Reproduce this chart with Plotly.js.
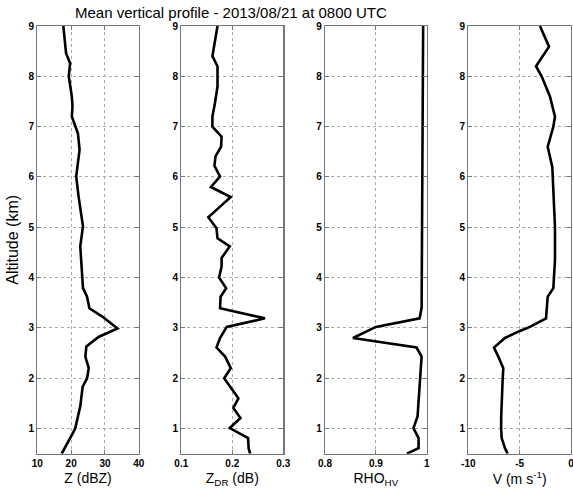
<!DOCTYPE html>
<html><head><meta charset="utf-8">
<script src="https://cdn.plot.ly/plotly-3.0.1.min.js"></script>
<style>html,body{margin:0;padding:0;background:#fff}</style>
</head><body><div id="chart" style="width:573px;height:495px"></div>
<script>
const zAlt = [9.0,8.46,8.26,8.0,7.6,7.4,7.2,6.87,6.54,6.01,5.61,5.02,4.62,4.35,4.0,3.79,3.62,3.39,3.23,2.99,2.82,2.63,2.43,2.2,2.0,1.83,1.44,1.0,0.91,0.5];
const zVal = [17.7,18.5,19.7,19.3,20.2,20.4,20.2,22.0,22.5,21.5,22.2,23.5,22.7,23.0,23.4,23.5,24.7,25.4,29.1,33.7,28.1,24.5,24.2,25.2,24.7,23.4,22.7,21.2,20.5,17.2];

const zdrAlt = [9.0,8.4,8.2,7.8,7.47,7.2,7.0,6.8,6.6,6.41,6.22,6.01,5.8,5.6,5.41,5.2,4.98,4.78,4.62,4.39,4.22,4.0,3.79,3.62,3.39,3.19,3.02,2.8,2.61,2.43,2.2,2.0,1.6,1.41,1.21,1.01,0.81,0.61,0.5];
const zdrVal = [0.171,0.161,0.171,0.171,0.166,0.161,0.161,0.179,0.178,0.167,0.165,0.176,0.158,0.197,0.176,0.153,0.169,0.171,0.195,0.179,0.179,0.174,0.188,0.177,0.176,0.264,0.189,0.176,0.169,0.186,0.197,0.184,0.212,0.202,0.216,0.195,0.231,0.232,0.235];

const rhoAlt = [9.0,6.0,4.0,3.4,3.19,3.02,2.8,2.61,2.43,2.0,1.41,1.24,1.01,0.81,0.61,0.5];
const rhoVal = [0.993,0.992,0.991,0.990,0.986,0.900,0.855,0.980,0.990,0.987,0.984,0.982,0.974,0.984,0.984,0.961];

const vAlt = [9.0,8.59,8.2,8.0,7.6,7.2,7.0,6.6,6.2,6.0,5.0,4.35,4.0,3.79,3.62,3.39,3.19,3.02,2.94,2.8,2.61,2.43,2.2,2.0,1.6,1.21,1.0,0.81,0.61,0.5];
const vVal = [-3.02,-2.14,-3.41,-2.86,-2.05,-1.56,-1.72,-2.27,-1.82,-1.78,-1.56,-1.56,-1.63,-1.72,-2.27,-2.37,-2.43,-4.0,-4.97,-6.43,-7.5,-7.08,-6.59,-6.65,-6.75,-6.8,-6.8,-6.75,-6.43,-6.17];

const xTitles = ['Z (dBZ)','Z<sub>DR</sub> (dB)','RHO<sub>HV</sub>','V (m s<sup>-1</sup>)'];
const xRanges = [[10,40],[0.1,0.3],[0.8,1],[-10,0]];
const xTickVals = [[10,20,30,40],[0.1,0.2,0.3],[0.8,0.9,1],[-10,-5,0]];
const xTickText = [['10','20','30','40'],['0.1','0.2','0.3'],['0.8','0.9','1'],['-10','-5','0']];
const yTickVals = [1,2,3,4,5,6,7,8,9];

const W = 573, H = 495;
const lefts = [37.3,181.3,325,468.3], rights = [138.8,283.3,426.7,571];
const yDom = [(H-453.7)/H, (H-26)/H];

const series = [[zVal,zAlt],[zdrVal,zdrAlt],[rhoVal,rhoAlt],[vVal,vAlt]];
const data = series.map((s,i)=>({
  x: s[0], y: s[1], type:'scatter', mode:'lines',
  line:{color:'#000', width:2.6},
  xaxis: i===0?'x':'x'+(i+1), yaxis: i===0?'y':'y'+(i+1), hoverinfo:'skip'
}));

const FF = 'Liberation Sans, Arial, sans-serif';
const tickFont = {family:FF, size:10, color:'#000', weight:'bold'};
const layout = {
  width:W, height:H, margin:{l:0,r:0,t:0,b:0},
  paper_bgcolor:'#fff', plot_bgcolor:'#fff', showlegend:false,
  annotations:[{
    text:'Mean vertical profile - 2013/08/21 at 0800 UTC', xref:'paper', yref:'paper',
    x:231.5/W, y:(H-12)/H, showarrow:false, xanchor:'center', yanchor:'middle',
    font:{family:FF, size:15, color:'#000'}
  }]
};
for (let i=0;i<4;i++){
  const xk = i===0?'xaxis':'xaxis'+(i+1);
  const yk = i===0?'yaxis':'yaxis'+(i+1);
  layout[xk] = {
    domain:[lefts[i]/W, rights[i]/W], anchor: i===0?'y':'y'+(i+1),
    range:xRanges[i], tickvals:xTickVals[i], ticktext:xTickText[i],
    showline:true, linecolor:'#777', linewidth:1.2, mirror:'allticks',
    ticks:'inside', ticklen:4, tickcolor:'#777', ticklabeloverflow:'allow',
    showgrid:true, gridcolor:'#aaa', griddash:'dot', gridwidth:1,
    zeroline:false, tickfont:tickFont, fixedrange:true,
    title:{text:xTitles[i], font:{family:FF, size:14, color:'#000'}, standoff:5}
  };
  layout[yk] = {
    domain:yDom, anchor: i===0?'x':'x'+(i+1),
    range:[0.5,9], tickvals:yTickVals,
    showline:true, linecolor:'#777', linewidth:1.2, mirror:'allticks',
    ticks:'inside', ticklen:4, tickcolor:'#777',
    showgrid:true, gridcolor:'#aaa', griddash:'dot', gridwidth:1,
    zeroline:false, tickfont:tickFont, fixedrange:true,
    title: i===0 ? {text:'Altitude (km)', font:{family:FF, size:16, color:'#000'}, standoff:6} : {text:''}
  };
}
Plotly.newPlot('chart', data, layout, {staticPlot:true, displayModeBar:false});
</script></body></html>
